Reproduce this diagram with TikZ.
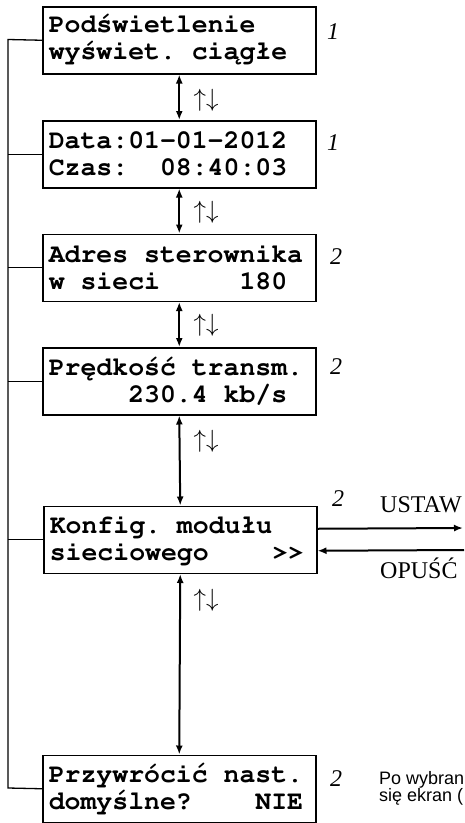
\documentclass[tikz,border=0pt]{standalone}
\usepackage[T1,TU]{fontenc}
\usepackage{fontspec}
\setmainfont{Liberation Serif}
\newfontfamily\arialfam{Liberation Sans}
\usetikzlibrary{arrows.meta}
\newcommand\lcdfont{\fontencoding{T1}\fontfamily{pcr}\fontseries{b}\fontshape{n}\fontsize{26.5}{27}\selectfont\frenchspacing}
\newcommand\sq{\kern0.6em\relax}
\tikzset{
  lcdbox/.style={draw, line width=1.5pt, minimum width=273pt, minimum height=67pt,
    inner xsep=6pt, inner ysep=0pt, text width=261pt, align=left, font=\lcdfont, anchor=north west},
  bus/.style={line width=1.3pt},
  conn/.style={line width=2pt, {Latex[length=9pt,width=7pt]}-{Latex[length=9pt,width=7pt]}},
  oneway/.style={line width=2pt, -{Latex[length=9pt,width=7pt]}},
  updown/.style={font=\fontsize{24}{24}\selectfont, inner sep=0pt},
  num/.style={font=\fontsize{24}{24}\selectfont\itshape, inner sep=0pt},
  lab/.style={font=\fontsize{24}{24}\selectfont, inner sep=0pt, anchor=base west},
  note/.style={font=\arialfam\fontsize{18}{18}\selectfont, inner sep=0pt, anchor=base west}
}
\begin{document}
\begin{tikzpicture}[x=1pt,y=-1pt]
\clip (0,0) rectangle (464,823);
\useasboundingbox (0,0) rectangle (464,823);

\node[lcdbox] (b1) at (42,6) {Pod\'swietlenie\\wy\'swiet.\sq ci\k{a}g\l{}e};
\node[lcdbox] (b2) at (42,120) {Data:01-01-2012\\Czas:\sq\sq 08:40:03};
\node[lcdbox] (b3) at (42,233.5) {Adres\sq sterownika\\w\sq sieci\sq\sq\sq\sq\sq 180};
\node[lcdbox] (b4) at (42,347) {Pr\k{e}dko\'s\'c\sq transm.\\\phantom{00000}230.4\sq kb/s};
\node[lcdbox] (b5) at (43,505.5) {Konfig.\sq modu\l{}u\\sieciowego\sq\sq\sq\sq >{}>};
\node[lcdbox] (b6) at (42,754.5) {Przywr\'oci\'c\sq nast.\\domy\'slne?\sq\sq\sq\sq NIE};

% left bus
\coordinate (busT) at (8,39.5);
\coordinate (busB) at (8,788);
\draw[bus] (b1.west) -- (busT) -- (busB) -- (b6.west);
\foreach \b in {b2,b3,b4,b5}{\draw[bus] (\b.west) -- (\b.west -| busT);}

% vertical two-way arrows
\draw[conn] (b1.south) -- (b2.north);
\draw[conn] (b2.south) -- (b3.north);
\draw[conn] (b3.south) -- (b4.north);
\draw[conn] (b4.south) -- (b5.north);
\draw[conn] (b5.south) -- (b6.north);

\node[updown] (u1) at (206,100) {$\uparrow\downarrow$};
\node[updown] (u2) at (206,212) {$\uparrow\downarrow$};
\node[updown] (u3) at (206,325) {$\uparrow\downarrow$};
\node[updown] (u4) at (206,441) {$\uparrow\downarrow$};
\node[updown] (u5) at (206,600) {$\uparrow\downarrow$};

% level numbers
\node[num] (n1) at (333,32) {1};
\node[num] (n2) at (333,143) {1};
\node[num] (n3) at (336,257) {2};
\node[num] (n4) at (336,367) {2};
\node[num] (n5) at (338,499) {2};
\node[num] (n6) at (336,779) {2};

% right side
\coordinate (ustE) at (463,528);
\coordinate (opuS) at (464,550);
\draw[oneway] ([yshift=11pt]b5.east) -- (ustE);
\draw[oneway] (opuS) -- ([yshift=-11pt]b5.east);
\node[lab] (ustaw) at (380,512) {USTAW};
\node[lab] (opusc) at (380,578) {OPUŚĆ};

\node[note] (note1) at (379,784) {Po wybran};
\node[note] (note2) at (379,801) {się ekran (};
\end{tikzpicture}
\end{document}
